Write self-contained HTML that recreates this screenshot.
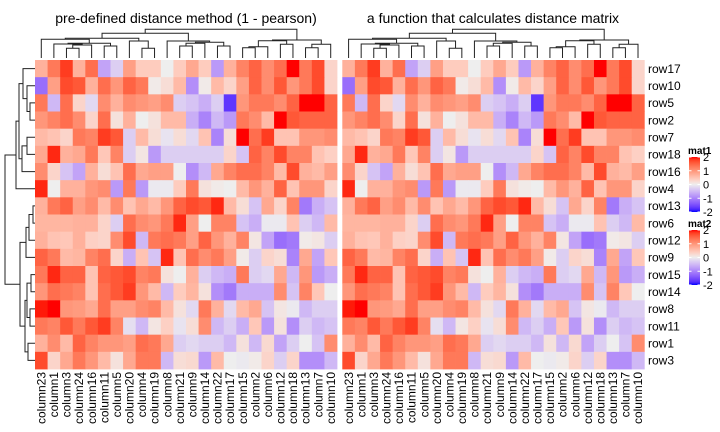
<!DOCTYPE html>
<html><head><meta charset="utf-8">
<style>
html,body{margin:0;padding:0;background:#fff;}
svg{display:block;font-family:"Liberation Sans",sans-serif;}
</style></head>
<body>
<svg id="chart" width="720" height="432" viewBox="0 0 720 432" xmlns="http://www.w3.org/2000/svg">
<text x="186" y="23" font-size="14" text-anchor="middle" fill="#000">pre-defined distance method (1 - pearson)</text>
<text x="493" y="23" font-size="14" text-anchor="middle" fill="#000">a function that calculates distance matrix</text>
</svg>
<script>
const rowNames = ["row17","row10","row5","row2","row7","row18","row16","row4","row13","row6","row12","row9","row15","row14","row8","row11","row1","row3"];
const colNames = ["column23","column1","column3","column24","column16","column11","column5","column20","column4","column19","column8","column21","column9","column14","column22","column17","column15","column2","column6","column12","column18","column13","column7","column10"];
const legendTicks = [2,1,0,-1,-2];
const r0 = [0.7,1.3,1.8,0.7,1.4,-0.7,-0.3,0.9,0.4,0.4,0.0,0.4,0.8,0.4,-0.8,0.7,1.2,1.5,1.1,1.4,2.0,1.3,1.7,0.3];
const r1 = [-1.2,0.9,1.7,1.6,0.7,1.4,1.0,1.5,1.3,0.05,0.2,0.6,-0.9,0.05,0.6,0.3,0.9,1.5,1.1,1.6,1.0,1.3,1.7,0.3];
const r2 = [1.3,-0.5,1.4,0.3,-0.2,1.1,0.7,1.1,1.0,0.9,1.1,-0.3,-0.4,-0.6,-0.3,-1.7,1.0,1.3,1.3,1.1,1.5,2.0,2.0,1.5];
const r3 = [1.0,1.2,1.4,1.1,0.3,1.4,0.15,0.7,0.0,0.15,0.6,0.6,-0.6,-1.0,-0.5,-0.8,1.3,1.1,0.6,2.0,1.6,1.5,1.5,1.5];
const r4 = [0.6,0.5,0.3,1.3,1.2,1.8,1.6,-0.3,0.6,0.2,-0.1,0.2,-0.2,0.5,-1.0,0.2,2.0,1.4,1.8,0.5,0.5,1.0,1.0,1.1];
const r5 = [0.8,1.9,0.7,0.8,1.3,0.45,1.2,-0.3,0.1,-0.8,-0.3,-0.3,-0.3,-0.3,-0.3,0.3,-0.4,1.5,1.2,1.7,1.2,1.2,0.5,0.35];
const r6 = [1.1,0.3,-0.4,-0.7,0.7,0.2,0.5,1.4,0.8,0.9,0.9,0.0,-0.9,-0.5,0.8,1.2,1.4,1.4,1.2,0.6,1.7,0.7,0.6,0.9];
const r7 = [1.9,0.0,0.7,0.7,1.0,1.1,-0.8,1.3,-0.8,-0.05,-0.05,0.4,1.3,0.15,0.05,0.0,0.6,1.0,0.7,1.5,0.5,1.0,1.0,0.3];
const r8 = [0.7,1.3,1.5,0.9,1.1,0.6,1.1,0.5,0.8,0.6,1.0,1.5,1.7,1.6,1.9,0.6,0.2,-0.4,0.8,0.3,1.2,-1.1,-0.6,-0.4];
const r9 = [0.65,0.65,0.65,0.7,0.7,0.3,-0.3,1.4,1.1,1.0,1.3,1.9,0.9,0.0,1.2,1.2,-0.4,-0.6,-0.05,-0.05,0.5,-0.3,-0.5,0.6];
const r10 = [0.7,0.5,0.45,0.7,0.35,0.3,1.1,1.7,-0.5,1.3,1.4,1.3,0.9,1.5,1.0,0.7,1.2,0.1,-0.7,-1.2,-1.1,0.05,0.1,-0.3];
const r11 = [1.5,1.3,0.6,0.65,1.2,1.4,0.3,-0.6,0.5,-0.4,1.9,0.5,1.4,1.1,1.3,0.9,0.05,-0.3,0.3,0.2,-1.0,0.8,-0.7,0.45];
const r12 = [1.3,1.9,1.5,1.5,0.5,1.5,1.6,1.7,1.2,1.3,0.15,0.0,0.7,-0.3,-0.5,-0.6,1.3,-0.3,-0.2,0.8,-0.5,1.0,-0.8,-0.6];
const r13 = [1.0,1.4,1.3,1.2,0.5,1.4,1.6,1.8,1.0,0.6,-0.5,0.4,0.65,0.15,-0.9,-1.1,-0.6,-0.6,-0.6,1.1,-0.4,1.2,0.45,0.0];
const r14 = [1.95,2.0,1.0,0.95,0.8,1.4,0.9,0.9,1.1,1.2,0.6,0.15,-0.2,1.3,0.7,-0.2,0.6,0.8,-0.4,0.1,-0.05,-0.5,-0.3,-0.3];
const r15 = [1.3,1.2,1.6,1.3,1.6,1.8,1.2,-0.15,-0.5,0.1,0.35,-0.1,0.2,1.1,-0.5,-0.3,-0.6,0.45,-0.8,0.15,-0.9,-0.3,-0.5,-0.4];
const r16 = [0.7,1.1,0.6,1.5,1.2,1.0,1.0,0.9,1.4,1.3,0.8,-0.3,-0.2,-0.3,-0.3,-0.5,0.15,-0.5,0.25,-0.7,-0.3,0.0,-0.4,1.1];
const r17 = [1.7,0.3,0.8,1.3,1.0,0.6,0.15,0.8,1.3,1.3,-0.5,0.2,0.25,-0.8,0.6,0.0,-0.05,0.05,0.3,-0.3,0.3,-0.9,-0.9,-0.5];
const mat1 = [r0,r1,r2,r3,r4,r5,r6,r7,r8,r9,r10,r11,r12,r13,r14,r15,r16,r17];
const mat2 = mat1;

const NS = "http://www.w3.org/2000/svg";
const svg = document.getElementById("chart");
function mk(tag, attrs, parent){ const e=document.createElementNS(NS,tag); for(const k in attrs) e.setAttribute(k,attrs[k]); (parent||svg).appendChild(e); return e; }

// LAB colour interpolation (blue - #EEEEEE - red)
function lin(c){c/=255;return c<=0.04045?c/12.92:Math.pow((c+0.055)/1.055,2.4);}
function unlin(c){c=c<=0.0031308?12.92*c:1.055*Math.pow(c,1/2.4)-0.055;return Math.max(0,Math.min(255,Math.round(c*255)));}
function toLab(rgb){const r=lin(rgb[0]),g=lin(rgb[1]),b=lin(rgb[2]);
 let x=(r*0.4124+g*0.3576+b*0.1805)/0.95047,y=(r*0.2126+g*0.7152+b*0.0722),z=(r*0.0193+g*0.1192+b*0.9505)/1.08883;
 const f=t=>t>0.008856?Math.cbrt(t):7.787*t+16/116; x=f(x);y=f(y);z=f(z);
 return [116*y-16,500*(x-y),200*(y-z)];}
function fromLab(l){let y=(l[0]+16)/116,x=l[1]/500+y,z=y-l[2]/200;
 const fi=t=>t*t*t>0.008856?t*t*t:(t-16/116)/7.787; x=fi(x)*0.95047;y=fi(y);z=fi(z)*1.08883;
 const r=x*3.2406+y*-1.5372+z*-0.4986,g=x*-0.9689+y*1.8758+z*0.0415,b=x*0.0557+y*-0.2040+z*1.0570;
 return "rgb("+unlin(r)+","+unlin(g)+","+unlin(b)+")";}
const LB=toLab([0,0,255]),LW=toLab([238,238,238]),LR=toLab([255,0,0]);
function col(v){v=Math.max(-2,Math.min(2,v));let a,b,t;
 if(v>=0){a=LW;b=LR;t=v/2;}else{a=LW;b=LB;t=-v/2;}
 return fromLab([a[0]+(b[0]-a[0])*t,a[1]+(b[1]-a[1])*t,a[2]+(b[2]-a[2])*t]);}

const top0=60, rowH=(369-60)/18, colW=302/24;
const leftX=[35,342.3];
function xOf(h,c){return leftX[h]+c*colW;}
function yOf(r){return top0+r*rowH;}

[mat1,mat2].forEach((m,h)=>{
 const g=mk("g",{});
 
 
 m.forEach((row,r)=>row.forEach((v,c)=>{
  const rect=mk("rect",{x:xOf(h,c).toFixed(2),y:yOf(r).toFixed(2),width:(colW+0.4).toFixed(2),height:(rowH+0.4).toFixed(2),fill:col(v)},g);
  
  
 }));
 colNames.forEach((n,c)=>{
  const cx=xOf(h,c)+colW/2+4.2;
  const t=mk("text",{x:cx,y:372,"font-size":12,"text-anchor":"end",transform:"rotate(-90 "+cx+" 372)",fill:"#000"});
  t.textContent=n;
  
  
 });
});
rowNames.forEach((n,r)=>{
 const t=mk("text",{x:648,y:yOf(r)+rowH/2+4.3,"font-size":12,fill:"#000"});
 t.textContent=n;
 
 
});

// column dendrogram [left,right,y]
const colTree=[[[[0,[[1,[[2,3,48.3],4,45],44],[5,6,46],43.3],39.3],[7,[8,9,48.3],41],38.3],[10,[[[11,12,46],13,43.3],[14,15,46],42.3],41],33.3],[[[[[16,17,47.7],18,46.7],[19,20,44.3],40.7]],0,0],29.3];
const colTreeR=[[[[16,17,47.7],18,46.7],[19,20,44.3],40.7],[[21,22,47.7],23,44.3],40];
const colRoot=[colTree[0],colTreeR,29.3];
const rowTree=[[[[0,[1,[2,3,30],27],23],[[4,5,27],6,22],19],7,16],[[[[8,9,33],10,29],11,26],[[[12,13,31],[14,15,30],27],[16,17,28],25],20],5];

function drawCol(node,h,g){
 if(typeof node==="number") return {x:xOf(h,node)+colW/2,y:58};
 const a=drawCol(node[0],h,g),b=drawCol(node[1],h,g),y=node[2];
 const p=mk("path",{d:`M${a.x},${a.y}V${y}H${b.x}V${b.y}`,fill:"none",stroke:"#222","stroke-width":1},g);
 
 
 return {x:(a.x+b.x)/2,y:y};
}
[0,1].forEach(h=>{
 const g=mk("g",{});
 
 
 drawCol(colRoot,h,g);
});
function drawRow(node,g){
 if(typeof node==="number") return {x:35,y:yOf(node)+rowH/2};
 const a=drawRow(node[0],g),b=drawRow(node[1],g),x=node[2];
 const p=mk("path",{d:`M${a.x},${a.y}H${x}V${b.y}H${b.x}`,fill:"none",stroke:"#222","stroke-width":1},g);
 
 
 return {x:x,y:(a.y+b.y)/2};
}
{const g=mk("g",{});
 
 
 drawRow(rowTree,g);}

// legends
const defs=mk("defs",{});
const grad=mk("linearGradient",{id:"lg",x1:0,y1:0,x2:0,y2:1},defs);
for(let i=0;i<=20;i++){const v=2-i*0.2;mk("stop",{offset:(i/20),"stop-color":col(v)},grad);}
[["mat1",157,212],["mat2",230,285]].forEach(([name,y0,y1])=>{
 const g=mk("g",{});
 
 
 const t=mk("text",{x:688,y:y0-3,"font-size":10,"font-weight":"bold",fill:"#000"},g);
 t.textContent=name;
 
 
 const bar=mk("rect",{x:689,y:y0,width:11,height:y1-y0,fill:"url(#lg)"},g);
 
 
 legendTicks.forEach(v=>{
  const yy=y0+(2-v)/4*(y1-y0);
  mk("line",{x1:689,x2:691.5,y1:yy,y2:yy,stroke:"#fff","stroke-width":1},g);
  mk("line",{x1:697.5,x2:700,y1:yy,y2:yy,stroke:"#fff","stroke-width":1},g);
  const lt=mk("text",{x:703,y:yy+4,"font-size":11,fill:"#000"},g);
  lt.textContent=String(v);
  
  
 });
});
</script>
</body></html>
